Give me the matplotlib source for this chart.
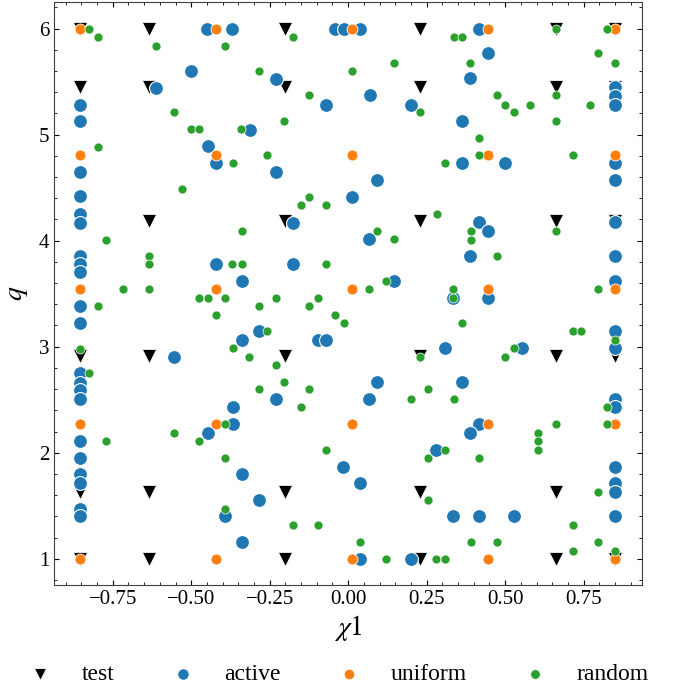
import numpy as np
import matplotlib
matplotlib.use('Agg')
import matplotlib.pyplot as plt
from matplotlib.ticker import AutoMinorLocator

plt.rcParams['font.family'] = ['Liberation Serif', 'DejaVu Serif']
plt.rcParams['mathtext.fontset'] = 'stix'

# test grid
test_chi = [-0.853, -0.635, -0.202, 0.229, 0.661, 0.851]
test_q = [1.0, 1.634, 2.916, 4.186, 5.446, 6.0]

# uniform grid
unif_chi = [-0.853, -0.421, 0.013, 0.445, 0.851]
unif_q = [1.0, 2.27, 3.545, 4.81, 6.0]

# active samples
active_chi = [-0.450, -0.369, -0.501, -0.611, -0.853, -0.853, -0.446, -0.422, -0.853, -0.853, -0.314,
              -0.041, -0.014, 0.039, -0.230, 0.068, -0.071, 0.201, -0.230, 0.093, 0.013,
              0.417, 0.445, 0.389, 0.851, 0.851, 0.851, 0.363, 0.363, 0.499, 0.851, 0.851,
              -0.853, -0.853, -0.853, -0.853, -0.853, -0.853, -0.853, -0.853, -0.853, -0.853, -0.853,
              -0.556, -0.421, -0.339, -0.339,
              -0.176, 0.067, -0.176, 0.147, -0.284, -0.095, -0.069, 0.308, 0.093, 0.334,
              0.418, 0.445, 0.389, 0.851, 0.851, 0.851, 0.445, 0.851, 0.851, 0.553, 0.363,
              -0.853, -0.853, -0.853, -0.853, -0.853, -0.853, -0.367, -0.367, -0.446, -0.339, -0.392, -0.339,
              -0.230, 0.067, 0.281, -0.015, 0.039, -0.284, 0.039, 0.201, 0.334,
              0.851, 0.851, 0.417, 0.389, 0.851, 0.851, 0.851, 0.851, 0.417, 0.527]
active_q = [6.0, 6.0, 5.60, 5.44, 5.28, 5.13, 4.89, 4.735, 4.65, 4.42, 5.04,
            6.0, 6.0, 6.0, 5.52, 5.37, 5.28, 5.28, 4.65, 4.57, 4.41,
            6.0, 5.77, 5.53, 5.446, 5.36, 5.28, 5.13, 4.735, 4.735, 4.735, 4.57,
            4.25, 4.17, 3.86, 3.78, 3.70, 3.38, 3.22, 2.75, 2.66, 2.59, 2.51,
            2.907, 3.78, 3.62, 3.06,
            4.17, 4.016, 3.78, 3.62, 3.15, 3.064, 3.064, 2.986, 2.665, 3.46,
            4.176, 4.09, 3.856, 4.176, 3.856, 3.62, 3.46, 3.15, 2.986, 2.986, 2.665,
            2.11, 1.95, 1.795, 1.716, 1.47, 1.40, 2.43, 2.27, 2.19, 1.795, 1.40, 1.157,
            2.51, 2.51, 2.03, 1.87, 1.716, 1.556, 1.0, 1.0, 1.40,
            2.51, 2.43, 2.27, 2.19, 1.87, 1.713, 1.634, 1.40, 1.40, 1.40]

# random samples
random_chi = [-0.825, -0.798, -0.611, -0.391, -0.556, -0.502, -0.475, -0.340, -0.798, -0.368, -0.529,
              -0.176, -0.284, 0.013, 0.146, -0.125, 0.230, -0.204, -0.259, 0.310, -0.125,
              0.336, 0.364, 0.661, 0.823, 0.797, 0.851, 0.389, 0.473, 0.499, 0.527, 0.580, 0.661, 0.769,
              0.661, 0.418, 0.418, 0.715,
              -0.772, -0.339, -0.635, -0.635, -0.717, -0.635, -0.369, -0.339, -0.798, -0.475, -0.446,
              -0.391, -0.421, -0.853, -0.368, -0.315, -0.826,
              -0.150, -0.069, 0.282, 0.093, 0.147, -0.069, 0.067, 0.120, -0.230, -0.284, -0.095, -0.124,
              -0.041, -0.014, -0.257, -0.230, 0.229, -0.204, -0.284, -0.124, 0.255,
              0.390, 0.390, 0.473, 0.661, 0.335, 0.335, 0.797, 0.364, 0.715, 0.741, 0.851, 0.527, 0.499,
              -0.772, -0.556, -0.475, -0.392, -0.392, -0.392,
              -0.150, 0.201, -0.069, 0.255, 0.310, 0.255, -0.176, -0.095, 0.039, 0.120, 0.281, 0.310,
              0.336, 0.823, 0.823, 0.661, 0.606, 0.606, 0.606, 0.418, 0.797, 0.715, 0.390, 0.473,
              0.715, 0.797, 0.851]
random_q = [6.0, 5.92, 5.84, 5.84, 5.21, 5.05, 5.05, 5.05, 4.886, 4.735, 4.49,
            5.92, 5.60, 5.60, 5.68, 5.37, 5.21, 5.13, 4.81, 4.735, 4.415,
            5.92, 5.92, 6.0, 6.0, 5.77, 5.68, 5.68, 5.37, 5.28, 5.21, 5.28, 5.37, 5.28,
            5.13, 4.97, 4.81, 4.81,
            4.01, 4.09, 3.86, 3.78, 3.54, 3.54, 3.78, 3.78, 3.38, 3.46, 3.46,
            3.46, 3.30, 2.98, 2.986, 2.907, 2.75,
            4.34, 4.34, 4.25, 4.09, 4.016, 3.78, 3.545, 3.62, 3.46, 3.38, 3.46, 3.38,
            3.30, 3.22, 3.15, 2.83, 2.907, 2.665, 2.60, 2.60, 2.60,
            4.09, 4.01, 3.856, 4.09, 3.54, 3.46, 3.54, 3.22, 3.146, 3.146, 3.06, 2.986, 2.907,
            2.11, 2.19, 2.11, 2.27, 1.95, 1.474,
            2.43, 2.51, 2.03, 1.95, 2.03, 1.556, 1.32, 1.32, 1.157, 1.0, 1.0, 1.0,
            2.51, 2.43, 2.27, 2.27, 2.19, 2.11, 2.03, 1.95, 1.634, 1.32, 1.16, 1.16,
            1.075, 1.16, 1.075]

tc, tq = np.meshgrid(test_chi, test_q)
uc, uq = np.meshgrid(unif_chi, unif_q)

fig = plt.figure(figsize=(6.77, 6.91), dpi=100)
ax = fig.add_axes([0.0798, 0.153, 0.868, 0.844])

ax.scatter(tc.ravel(), tq.ravel(), marker='v', s=105, c='black', edgecolors='white', linewidths=0.6, label='test', zorder=2)
ax.scatter(active_chi, active_q, marker='o', s=100, c='#1f77b4', edgecolors='white', linewidths=0.8, label='active', zorder=3)
ax.scatter(uc.ravel(), uq.ravel(), marker='o', s=62, c='#ff7f0e', edgecolors='white', linewidths=0.6, label='uniform', zorder=4)
ax.scatter(random_chi, random_q, marker='o', s=42, c='#2ca02c', edgecolors='white', linewidths=0.5, label='random', zorder=5)

ax.set_xlim(-0.937, 0.935)
ax.set_ylim(0.75, 6.25)
ax.set_xticks([-0.75, -0.5, -0.25, 0.0, 0.25, 0.5, 0.75])
ax.set_yticks([1, 2, 3, 4, 5, 6])
ax.xaxis.set_minor_locator(AutoMinorLocator())
ax.yaxis.set_minor_locator(AutoMinorLocator())
ax.tick_params(which='both', direction='in', top=True, right=True, labelsize=15)
for sp in ax.spines.values():
    sp.set_color('0.25')

ax.set_xlabel(r'$\chi 1$', fontsize=20, labelpad=3)
ax.set_ylabel(r'$q$', fontsize=20, labelpad=6)

leg = fig.legend(loc='center', bbox_to_anchor=(0.5, 0.024), ncol=4, frameon=False,
                 fontsize=17, handlelength=1.0, handletextpad=1.25,
                 columnspacing=2.4)
# legend markers all roughly the same size, like the reference
for h, sz in zip(leg.legend_handles, [75, 70, 58, 48]):
    h.set_sizes([sz])

fig.savefig('out.png', dpi=100)
